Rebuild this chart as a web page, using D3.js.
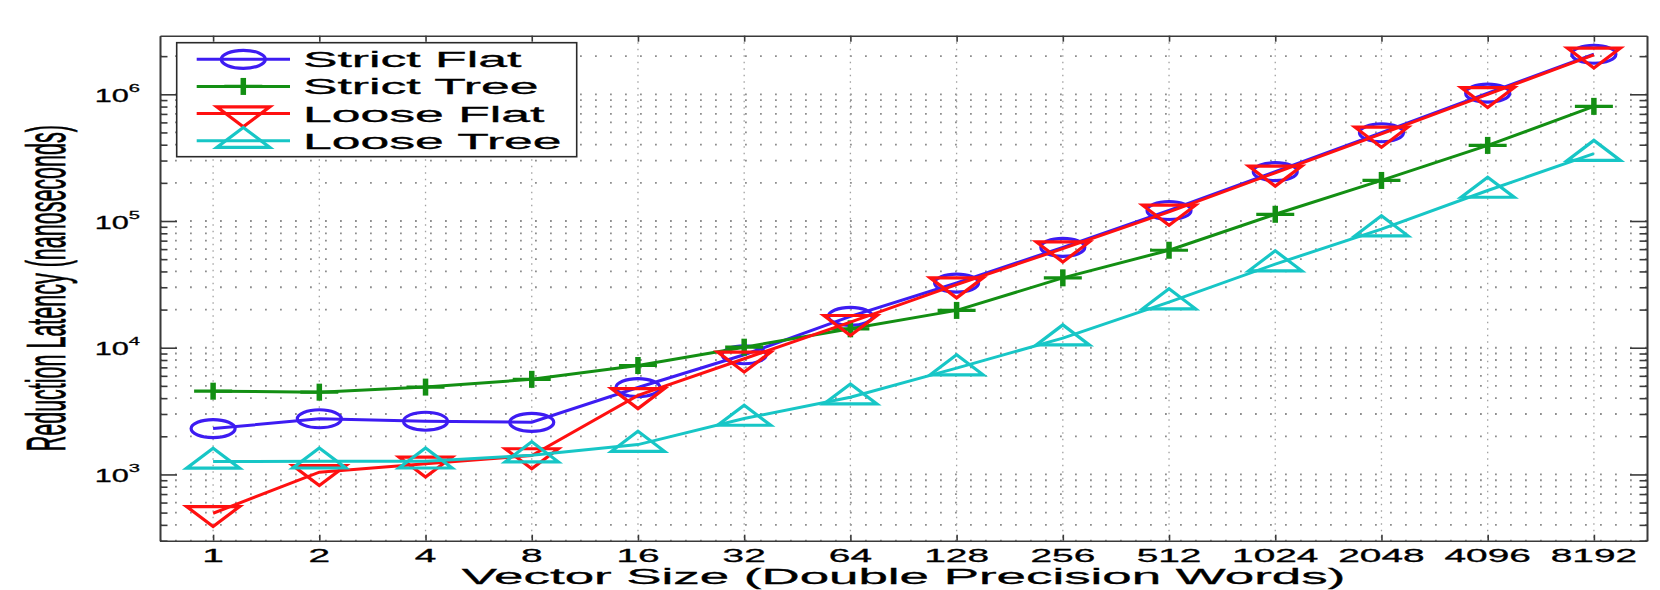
<!DOCTYPE html>
<html>
<head>
<meta charset="utf-8">
<script src="https://cdn.jsdelivr.net/npm/d3@7"></script>
<style>
  body { margin: 0; background: #fff; }
  svg { display: block; }
  text { font-family: "Liberation Sans", Arial, Helvetica, sans-serif; fill: #000; stroke: #000; stroke-width: 0.3px; }
</style>
</head>
<body>
<svg width="1660" height="590"></svg>
<script>
// vector sizes (double precision words)
var sizes = ["1", "2", "4", "8", "16", "32", "64", "128", "256", "512", "1024", "2048", "4096", "8192"];

// reduction latency in nanoseconds
var strictFlat = [2300, 2750, 2630, 2580, 4850, 8800, 17700, 32400, 62000, 121000, 245000, 497000, 1020000, 2070000];
var strictTree = [4540, 4460, 4890, 5630, 7240, 10100, 14100, 19700, 35600, 58800, 113000, 209000, 395000, 803000];
var looseFlat = [494, 1042, 1215, 1412, 4210, 8180, 15900, 31500, 60500, 118000, 240000, 487000, 1000000, 2050000];
var looseTree = [1266, 1270, 1270, 1420, 1720, 2760, 4070, 6900, 11900, 22900, 45700, 86300, 174000, 340000];

var seriesNames = ["Strict Flat", "Strict Tree", "Loose Flat", "Loose Tree"];
var yDomain = [300, 2.9e6];

var series = [
  { name: seriesNames[0], values: strictFlat, color: "#3d1cf2", marker: "circle" },
  { name: seriesNames[1], values: strictTree, color: "#138f13", marker: "plus" },
  { name: seriesNames[2], values: looseFlat, color: "#ff1010", marker: "down" },
  { name: seriesNames[3], values: looseTree, color: "#17c6c6", marker: "up" }
];

var svg = d3.select("svg");
var plotL = 160, plotR = 1647, plotT = 35.7, plotB = 540.7;

// the figure is stretched sideways, text included
var STRETCH = 2.35;

var x = d3.scalePoint().domain(sizes).range([plotL, plotR]).padding(0.5);
var y = d3.scaleLog().domain(yDomain).range([plotB, plotT]);

var allTicks = y.ticks();
var majors = allTicks.filter(function (v) {
  var l = Math.log10(v);
  return Math.abs(l - Math.round(l)) < 1e-9;
});
var minors = allTicks.filter(function (v) { return majors.indexOf(v) < 0; });

// grid
var grid = svg.append("g").attr("class", "grid");
grid.selectAll(".hgrid")
  .data(allTicks)
  .enter().append("line")
  .attr("x1", plotL).attr("x2", plotR)
  .attr("y1", function (d) { return y(d); })
  .attr("y2", function (d) { return y(d); })
  .attr("stroke", "#8e8e8e")
  .attr("stroke-width", 1.8)
  .attr("stroke-dasharray", "1.8,13.2");

grid.selectAll(".vgrid")
  .data(sizes)
  .enter().append("line")
  .attr("x1", function (d) { return x(d); })
  .attr("x2", function (d) { return x(d); })
  .attr("y1", plotT).attr("y2", plotB)
  .attr("stroke", "#a0a0a0")
  .attr("stroke-width", 1.3)
  .attr("stroke-dasharray", "1.5,5");

// axes (box + inward ticks)
function styleAxis(g) {
  g.selectAll("path").attr("stroke", "#3a3a3a").attr("stroke-width", 1.6);
  g.selectAll("line").attr("stroke", "#3a3a3a").attr("stroke-width", 1.6);
  g.selectAll("text").remove();
}

svg.append("g").attr("transform", "translate(0," + plotB + ")")
  .call(d3.axisBottom(x).tickSize(-6).tickSizeOuter(0).tickFormat(""))
  .call(styleAxis);
svg.append("g").attr("transform", "translate(0," + plotT + ")")
  .call(d3.axisTop(x).tickSize(-6).tickSizeOuter(0).tickFormat(""))
  .call(styleAxis);
svg.append("g").attr("transform", "translate(" + plotL + ",0)")
  .call(d3.axisLeft(y).tickValues(majors).tickSize(-17).tickSizeOuter(0).tickFormat(""))
  .call(styleAxis);
svg.append("g").attr("transform", "translate(" + plotL + ",0)")
  .call(d3.axisLeft(y).tickValues(minors).tickSize(-7.5).tickSizeOuter(0).tickFormat(""))
  .call(styleAxis);
svg.append("g").attr("transform", "translate(" + plotR + ",0)")
  .call(d3.axisRight(y).tickValues(majors).tickSize(-17).tickSizeOuter(0).tickFormat(""))
  .call(styleAxis);
svg.append("g").attr("transform", "translate(" + plotR + ",0)")
  .call(d3.axisRight(y).tickValues(minors).tickSize(-7.5).tickSizeOuter(0).tickFormat(""))
  .call(styleAxis);

// tick labels
svg.append("g").selectAll("text")
  .data(sizes)
  .enter().append("text")
  .attr("transform", function (d) { return "translate(" + x(d) + ",562) scale(2.1,1)"; })
  .attr("text-anchor", "middle")
  .style("font-size", "18.5px")
  .text(function (d) { return d; });

var yl = svg.append("g").selectAll("text")
  .data(majors)
  .enter().append("text")
  .attr("transform", function (d) { return "translate(140," + (y(d) + 7.6) + ") scale(1.75,1)"; })
  .attr("text-anchor", "end")
  .style("font-size", "17.5px");
yl.append("tspan").text("10");
yl.append("tspan").attr("dy", -10).style("font-size", "11.5px")
  .text(function (d) { return Math.round(Math.log10(d)); });

// axis titles
svg.append("text")
  .attr("transform", "translate(" + ((plotL + plotR) / 2) + ",584) scale(2.3,1)")
  .attr("text-anchor", "middle")
  .style("font-size", "23px")
  .text("Vector Size (Double Precision Words)");

svg.append("text")
  .attr("transform", "translate(65," + ((plotT + plotB) / 2) + ") scale(2.55,1) rotate(-90)")
  .attr("text-anchor", "middle")
  .style("font-size", "21.5px")
  .text("Reduction Latency (nanoseconds)");

// markers
function drawMarker(sel, kind, color) {
  if (kind === "circle") {
    sel.append("ellipse").attr("rx", 22).attr("ry", 9)
      .attr("fill", "none").attr("stroke", color).attr("stroke-width", 3.2);
  } else if (kind === "plus") {
    sel.append("path").attr("d", "M-19,0H19")
      .attr("stroke", color).attr("stroke-width", 3.2);
    sel.append("path").attr("d", "M0,-8.5V8.5")
      .attr("stroke", color).attr("stroke-width", 5.5);
  } else if (kind === "down") {
    sel.append("path").attr("d", "M-26.5,-6.7L26.5,-6.7L0,13.3Z")
      .attr("fill", "none").attr("stroke", color).attr("stroke-width", 3.2)
      .attr("stroke-linejoin", "miter");
  } else {
    sel.append("path").attr("d", "M-26.5,6.7L26.5,6.7L0,-13.3Z")
      .attr("fill", "none").attr("stroke", color).attr("stroke-width", 3.2)
      .attr("stroke-linejoin", "miter");
  }
}

var line = d3.line()
  .x(function (d, i) { return x(sizes[i]); })
  .y(function (d) { return y(d); });

var plot = svg.append("g");
series.forEach(function (s) {
  var g = plot.append("g");
  g.append("path")
    .attr("d", line(s.values))
    .attr("fill", "none")
    .attr("stroke", s.color)
    .attr("stroke-width", 3);
  g.selectAll(".mk")
    .data(s.values)
    .enter().append("g")
    .attr("transform", function (d, i) { return "translate(" + x(sizes[i]) + "," + y(d) + ")"; })
    .each(function () { drawMarker(d3.select(this), s.marker, s.color); });
});

// legend
var legend = svg.append("g");
legend.append("rect")
  .attr("x", 176.7).attr("y", 42.7)
  .attr("width", 400).attr("height", 114)
  .attr("fill", "#fff")
  .attr("stroke", "#2a2a2a")
  .attr("stroke-width", 1.6);

var rowY = d3.scalePoint().domain(seriesNames).range([59.3, 140.7]);
series.forEach(function (s) {
  var ry = rowY(s.name);
  var row = legend.append("g");
  row.append("line")
    .attr("x1", 196.7).attr("x2", 290)
    .attr("y1", ry).attr("y2", ry)
    .attr("stroke", s.color).attr("stroke-width", 3);
  drawMarker(row.append("g").attr("transform", "translate(243.3," + ry + ")"), s.marker, s.color);
  row.append("text")
    .attr("transform", "translate(303," + (ry + 8) + ") scale(" + STRETCH + ",1)")
    .style("font-size", "22px")
    .text(s.name);
});
</script>
</body>
</html>
